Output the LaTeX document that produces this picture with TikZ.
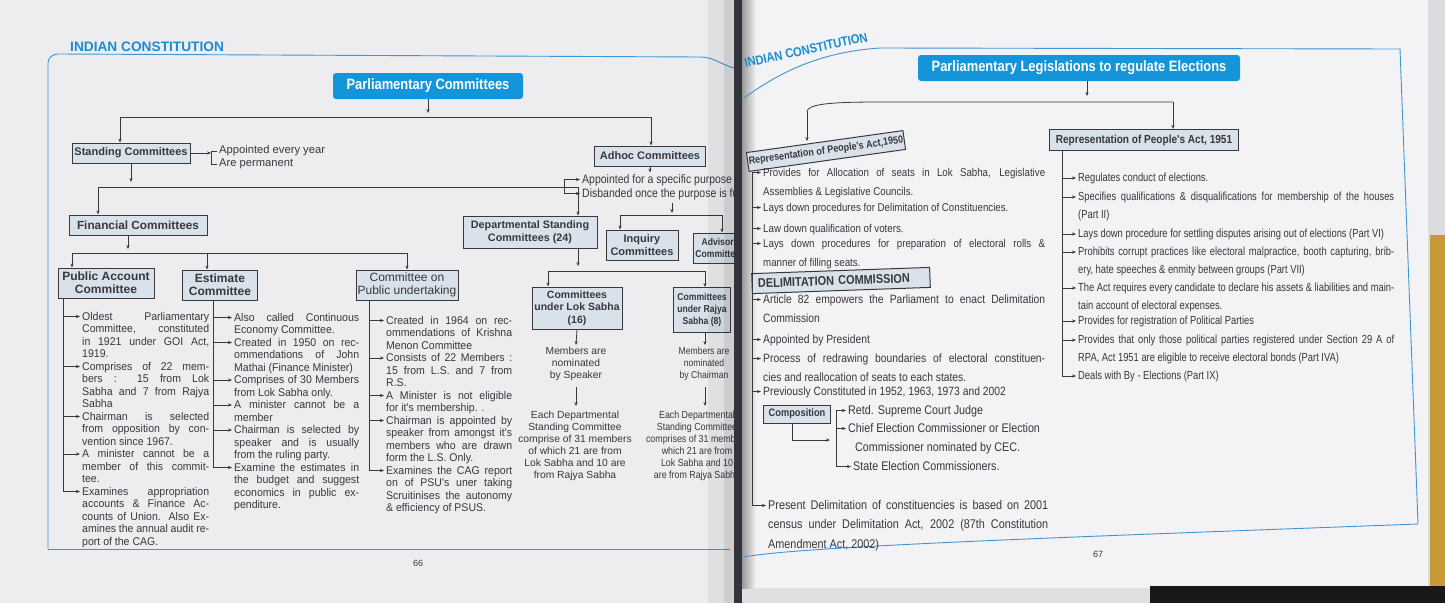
\documentclass[tikz,border=0pt]{standalone}
\usepackage{fontspec}
\setmainfont{Liberation Sans}
\newfontfamily\nar[FakeStretch=0.86]{Liberation Sans}
\newfontfamily\narr[FakeStretch=0.8]{Liberation Sans}
\newfontfamily\midf[FakeStretch=0.94]{Liberation Sans}
\usetikzlibrary{arrows.meta,calc}
\definecolor{outbg}{HTML}{DCDCE0}
\definecolor{pageL}{HTML}{EDEDF0}
\definecolor{pageR}{HTML}{F3F3F6}
\definecolor{frameblue}{HTML}{3F95D4}
\definecolor{titleblue}{HTML}{1495DA}
\definecolor{boxfill}{HTML}{D9E1EA}
\definecolor{ink}{HTML}{38383D}
\definecolor{hdrblue}{HTML}{1A8CD0}
\definecolor{gutter}{HTML}{34343C}
\definecolor{edgeY}{HTML}{C79A35}
\definecolor{darkbg}{HTML}{18181A}
\newcommand\J[1]{\hbox to \hsize{#1}}
\newcommand\Pb[2]{\parbox[t]{#1}{\raggedright #2}}
\newcommand\harr[2]{\path ($(#2.base west)+(0,-3.5)$) coordinate (tmpa); \draw[arr] (tmpa -| #1) -- ($(tmpa)+(-2,0)$);}
\newcommand\vlst[3]{\path ($(#3.base west)+(0,-3.5)$) coordinate (tmpb); \draw[conn] (#1 -| #2) -- (tmpb -| #2);}
\tikzset{
 cbox/.style={draw=ink, line width=1pt, fill=boxfill, font=\fontsize{11}{12.5}\selectfont\bfseries, text=ink, align=center, inner sep=1pt},
 tbox/.style={fill=titleblue, rounded corners=3pt, text=white, font=\nar\fontsize{15}{17}\selectfont\bfseries, inner sep=0pt},
 conn/.style={draw=ink, line width=0.8pt},
 arr/.style={conn, -{Stealth[length=4pt,width=3.2pt]}},
 item/.style={anchor=base west, inner sep=0pt, text=ink, font=\midf\fontsize{11.2}{12.5}\selectfont},
 ritem/.style={anchor=base west, inner sep=0pt, text=ink, font=\nar\fontsize{11.3}{19.5}\selectfont},
 qitem/.style={anchor=base west, inner sep=0pt, text=ink, font=\narr\fontsize{11.7}{17.5}\selectfont},
 ctext/.style={inner sep=0pt, text=ink, align=center, font=\fontsize{10.3}{12}\selectfont},
 stxt/.style={inner sep=0pt, text=ink, font=\fontsize{11.2}{12}\selectfont},
 stxt2/.style={inner sep=0pt, text=ink, font=\nar\fontsize{12.2}{13}\selectfont},
 hdr/.style={text=hdrblue, font=\fontsize{13.7}{15}\selectfont\bfseries, inner sep=0pt},
 frame/.style={draw=frameblue, line width=0.9pt},
 pnum/.style={text=ink, font=\fontsize{9}{10}\selectfont, inner sep=0pt},
}
\begin{document}
\begin{tikzpicture}[x=1pt,y=-1pt]
\useasboundingbox (0,0) rectangle (1445,603);
% backgrounds
\fill[outbg] (0,0) rectangle (1445,603);
\fill[pageL] (0,0) rectangle (734,603);
\fill[pageR] (742,0) rectangle (1428,588);
\fill[pageR!92!black] (742,588) rectangle (1150,603);
\fill[edgeY] (1430,235) rectangle (1445,603);
\fill[darkbg] (1150,586) rectangle (1445,603);

% ---------------- left page ----------------
\draw[frame] (48,549) -- (48,63) to[out=90,in=180] (58,54) -- (700,57) to[out=0,in=165] (734,68);
\draw[frame] (48,549) -- (730,549);
\node[hdr, anchor=base west] (hdrL) at (70,51) {INDIAN CONSTITUTION};
\node[pnum] (p66) at (418,563) {66};

\begin{scope}
\clip (0,0) rectangle (734,603);
\node[tbox, minimum width=190pt, minimum height=26pt] (t1) at (428,86) {Parliamentary Committees};
\coordinate (b1L) at (120,117); \coordinate (b1R) at (651,117);
\draw[arr] (t1.south) -- ($(t1.south |- b1L)+(0,-4)$);
\draw[conn] (b1L) -- (b1R);
\node[cbox, minimum width=118pt, minimum height=20pt] (std) at (131,153) {Standing Committees};
\node[cbox, minimum width=111pt, minimum height=20pt] (adh) at (650,156) {Adhoc Committees};
\draw[arr] (b1L) -- (b1L |- std.north);
\draw[arr] (b1R) -- (b1R |- adh.north);

% standing bracket
\node[stxt, anchor=west] (sa1) at (219,151) {Appointed every year};
\node[stxt, anchor=west] (sa2) at (219,164) {Are permanent};
\coordinate (saX) at (211,0);
\draw[conn] ($(sa1.west)+(-2,0)$) -| (saX |- sa2.west) -- ($(sa2.west)+(-2,0)$);
\draw[arr] (std.east) -- (std.east -| saX);

% bus 2
\coordinate (b2L) at (98,187); \coordinate (b2R) at (578,187);
\draw[arr] (std.south) -- ($(std.south |- b2L)+(0,-5)$);
\draw[conn] (b2L) -- (b2R);
\node[cbox, font=\fontsize{11.8}{13}\selectfont\bfseries, minimum width=138pt, minimum height=20pt] (fin) at (138,225) {Financial Committees};
\node[cbox, font=\fontsize{10.8}{12.5}\selectfont\bfseries, minimum width=134pt, minimum height=32pt] (dsc) at (530,232) {Departmental Standing\\Committees (24)};
\draw[arr] (b2L) -- (b2L |- fin.north);
\draw[arr] (b2R) -- (b2R |- dsc.north);

% bus 3
\coordinate (b3L) at (72,253); \coordinate (b3M) at (207,253); \coordinate (b3R) at (407,253);
\coordinate (finA) at ([xshift=-10pt]fin.south);
\draw[arr] (finA) -- ($(finA |- b3L)+(0,-4)$);
\draw[conn] (b3L) -- (b3R);
\node[cbox, font=\fontsize{12}{13}\selectfont\bfseries, minimum width=96pt, minimum height=30pt] (pac) at (106,283) {Public Account\\Committee};
\node[cbox, font=\fontsize{12}{13}\selectfont\bfseries, minimum width=75pt, minimum height=30pt] (est) at (220,285) {Estimate\\Committee};
\node[cbox, font=\fontsize{12}{13}\selectfont, minimum width=102pt, minimum height=30pt] (cpu) at (407,285) {Committee on\\Public undertaking};
\draw[arr] (b3L) -- (b3L |- pac.north);
\draw[arr] (b3M) -- (b3M |- est.north);
\draw[arr] (b3R) -- (b3R |- cpu.north);

% public account list
\coordinate (paX) at (63,0);
\node[item] (pa1) at (82,320) {\Pb{127pt}{\J{Oldest Parliamentary}\J{Committee, constituted}\J{in 1921 under GOI Act,}1919.}};
\node[item] (pa2) at (82,370) {\Pb{127pt}{\J{Comprises of 22 mem-}\J{bers : 15 from Lok}\J{Sabha and 7 from Rajya}Sabha}};
\node[item] (pa3) at (82,420) {\Pb{127pt}{\J{Chairman is selected}\J{from opposition by con-}vention since 1967.}};
\node[item] (pa4) at (82,457.5) {\Pb{127pt}{\J{A minister cannot be a}\J{member of this commit-}tee.}};
\node[item] (pa5) at (82,495) {\Pb{127pt}{\J{Examines appropriation}\J{accounts \& Finance Ac-}\J{counts of Union. Also Ex-}\J{amines the annual audit re-}port of the CAG.}};
\vlst{pac.south}{paX}{pa5}
\harr{paX}{pa1}\harr{paX}{pa2}\harr{paX}{pa3}\harr{paX}{pa4}\harr{paX}{pa5}

% estimate list
\coordinate (esX) at (213,0);
\node[item] (e1) at (234,321) {\Pb{125pt}{\J{Also called Continuous}Economy Committee.}};
\node[item] (e2) at (234,346) {\Pb{125pt}{\J{Created in 1950 on rec-}\J{ommendations of John}Mathai (Finance Minister)}};
\node[item] (e3) at (234,383.5) {\Pb{125pt}{\J{Comprises of 30 Members}from Lok Sabha only.}};
\node[item] (e4) at (234,408.5) {\Pb{125pt}{\J{A minister cannot be a}member}};
\node[item] (e5) at (234,433.5) {\Pb{125pt}{\J{Chairman is selected by}\J{speaker and is usually}from the ruling party.}};
\node[item] (e6) at (234,471) {\Pb{125pt}{\J{Examine the estimates in}\J{the budget and suggest}\J{economics in public ex-}penditure.}};
\vlst{est.south}{esX}{e6}
\harr{esX}{e1}\harr{esX}{e2}\harr{esX}{e3}\harr{esX}{e4}\harr{esX}{e5}\harr{esX}{e6}

% public undertaking list
\coordinate (cpX) at (369,0);
\node[item] (c1) at (386,324) {\Pb{126pt}{\J{Created in 1964 on rec-}\J{ommendations of Krishna}Menon Committee}};
\node[item] (c2) at (386,361.5) {\Pb{126pt}{\J{Consists of 22 Members :}\J{15 from L.S. and 7 from}R.S.}};
\node[item] (c3) at (386,399) {\Pb{126pt}{\J{A Minister is not eligible}for it's membership. .}};
\node[item] (c4) at (386,424) {\Pb{126pt}{\J{Chairman is appointed by}\J{speaker from amongst it's}\J{members who are drawn}form the L.S. Only.}};
\node[item] (c5) at (386,474) {\Pb{126pt}{\J{Examines the CAG report}\J{on of PSU's uner taking}\J{Scruitinises the autonomy}\& efficiency of PSUS.}};
\vlst{cpu.south}{cpX}{c5}
\harr{cpX}{c1}\harr{cpX}{c2}\harr{cpX}{c3}\harr{cpX}{c4}\harr{cpX}{c5}

% departmental standing committees
\coordinate (dscA) at (578,0); \coordinate (b4L) at (548,271); \coordinate (b4R) at (705,271);
\draw[arr] (dsc.south -| dscA) -- ($(b4L -| dscA)+(0,-5)$);
\draw[conn] (b4L) -- (b4R);
\node[cbox, font=\fontsize{10.5}{12.5}\selectfont\bfseries, minimum width=90pt, minimum height=42pt] (los) at (577,308) {Committees\\under Lok Sabha\\(16)};
\node[cbox, font=\nar\fontsize{10}{12}\selectfont\bfseries, minimum width=57pt, minimum height=45pt] (ras) at (702,310) {Committees\\under Rajya\\Sabha (8)};
\draw[arr] (b4L) -- (b4L |- los.north);
\draw[arr] (b4R) -- (b4R |- ras.north);
\node[ctext] (lm) at (576,364) {Members are\\nominated\\by Speaker};
\node[ctext] (le) at (575,446) {Each Departmental\\Standing Committee\\comprise of 31 members\\of which 21 are from\\Lok Sabha and 10 are\\from Rajya Sabha};
\node[ctext, font=\nar\fontsize{10}{12}\selectfont] (rm) at (704,364) {Members are\\nominated\\by Chairman};
\node[ctext, font=\nar\fontsize{10.3}{12}\selectfont] (re) at (697,446) {Each Departmental\\Standing Committee\\comprises of 31 members\\which 21 are from\\Lok Sabha and 10\\are from Rajya Sabha};
\draw[arr] (los.south) -- ($(lm.north)+(0,-2)$);
\draw[arr, shorten <=6pt, shorten >=5pt] (lm.south) -- (lm.south |- le.north);
\draw[arr] (b4R |- ras.south) -- ($(b4R |- rm.north)+(0,-2)$);
\draw[arr, shorten <=6pt, shorten >=5pt] (b4R |- rm.south) -- (b4R |- re.north);

% adhoc
\coordinate (adhA) at ($(adh.south)+(0,6)$);
\draw[arr] (adh.south) -- (adhA);
\node[stxt2, anchor=base west] (ap1) at (582,183) {Appointed for a specific purpose};
\node[stxt2, anchor=base west] (ap2) at (582,197) {Disbanded once the purpose is fulfilled};
\coordinate (apX) at (564,0);
\path ($(ap1.base west)+(0,-3.5)$) coordinate (ap1a);
\path ($(ap2.base west)+(0,-3.5)$) coordinate (ap2a);
\draw[conn] (ap1a -| apX) -- (ap2a -| apX);
\draw[arr] (ap1a -| apX) -- ($(ap1a)+(-2,0)$);
\draw[arr] (ap2a -| apX) -- ($(ap2a)+(-2,0)$);

% inquiry / advisory
\coordinate (b5L) at (620,215); \coordinate (b5R) at (722,215); \coordinate (b5M) at (672,215);
\draw[arr] ($(b5M |- ap2.south)+(0,3)$) -- ($(b5M)+(0,-2)$);
\draw[conn] (b5L) -- (b5R);
\node[cbox, font=\fontsize{11}{13}\selectfont\bfseries, minimum width=72pt, minimum height=30pt] (inq) at (642,245) {Inquiry\\Committees};
\node[cbox, font=\nar\fontsize{10}{12}\selectfont\bfseries, minimum width=54pt, minimum height=30pt] (adv) at (720,248) {Advisory\\Committees};
\draw[arr] (b5L) -- (b5L |- inq.north);
\draw[arr] (b5R) -- (b5R |- adv.north);
\end{scope}

% gutter
\fill[black, opacity=0.05] (708,0) rectangle (734,603);
\fill[black, opacity=0.08] (724,0) rectangle (734,603);
\fill[gutter] (734,0) rectangle (742,603);
\shade[left color=black!40, right color=pageR] (742,0) rectangle (756,588);

% ---------------- right page ----------------
\draw[frame] (744,98) .. controls (780,72) and (820,52) .. (880,48) -- (1400,49) -- (1418,524) .. controls (1100,536) and (800,546) .. (744,557);
\node[hdr, font=\nar\fontsize{13}{14}\selectfont\bfseries, rotate=12] (hdrR) at (806,50) {INDIAN CONSTITUTION};
\node[pnum] (p67) at (1098,554) {67};
\node[tbox, minimum width=322pt, minimum height=26pt] (t2) at (1079,68) {Parliamentary Legislations to regulate Elections};
\coordinate (b6L) at (807,112); \coordinate (b6M) at (1087,102); \coordinate (b6R) at (1173,102);
\draw[arr] (t2.south -| b6M) -- ($(b6M)+(0,-6)$);
\draw[conn] (b6L) .. controls (807,104) and (830,102) .. (880,102) -- (b6R);
\node[cbox, font=\nar\fontsize{10.5}{12}\selectfont\bfseries, minimum width=158pt, minimum height=19pt, rotate=8] (r50) at (826,151) {Representation of People's Act,1950};
\node[cbox, font=\nar\fontsize{11.7}{13}\selectfont\bfseries, minimum width=189pt, minimum height=21pt] (r51) at (1144,140) {Representation of People's Act, 1951};
\draw[arr] (b6L) -- (r50.north -| b6L);
\draw[arr] (b6R) -- (b6R |- r51.north);

% 1951 list
\coordinate (qX) at (1062,0);
\node[qitem] (q1) at (1078,181.5) {Regulates conduct of elections.};
\node[qitem] (q2) at (1078,200.5) {\Pb{316pt}{\J{Specifies qualifications \& disqualifications for membership of the houses}(Part II)}};
\node[qitem] (q3) at (1078,237.5) {Lays down procedure for settling disputes arising out of elections (Part VI)};
\node[qitem] (q4) at (1078,255.5) {\Pb{316pt}{\J{Prohibits corrupt practices like electoral malpractice, booth capturing, brib-}ery, hate speeches \& enmity between groups (Part VII)}};
\node[qitem] (q5) at (1078,291.5) {\Pb{316pt}{\J{The Act requires every candidate to declare his assets \& liabilities and main-}tain account of electoral expenses.}};
\node[qitem] (q6) at (1078,324.5) {Provides for registration of Political Parties};
\node[qitem] (q7) at (1078,343.5) {\Pb{316pt}{\J{Provides that only those political parties registered under Section 29 A of}RPA, Act 1951 are eligible to receive electoral bonds (Part IVA)}};
\node[qitem] (q8) at (1078,379.5) {Deals with By - Elections (Part IX)};
\vlst{r51.south}{qX}{q8}
\harr{qX}{q1}\harr{qX}{q2}\harr{qX}{q3}\harr{qX}{q4}\harr{qX}{q5}\harr{qX}{q6}\harr{qX}{q7}\harr{qX}{q8}

% 1950 list
\coordinate (rX) at (752,0);
\node[ritem] (i1) at (763,176) {\Pb{282pt}{\J{Provides for Allocation of seats in Lok Sabha, Legislative}Assemblies \& Legislative Councils.}};
\node[ritem] (i2) at (763,211) {Lays down procedures for Delimitation of Constituencies.};
\node[ritem] (i3) at (763,232) {Law down qualification of voters.};
\node[ritem] (i4) at (763,247) {\Pb{282pt}{\J{Lays down procedures for preparation of electoral rolls \&}manner of filling seats.}};
\node[cbox, font=\nar\fontsize{12.7}{13}\selectfont\bfseries, minimum width=178pt, minimum height=20pt, text width=166pt, align=left, inner xsep=6pt, rotate=2] (dc) at (841,280.5) {DELIMITATION COMMISSION};
\node[ritem, font=\nar\fontsize{12}{19.5}\selectfont] (i5) at (763,303) {\Pb{282pt}{\J{Article 82 empowers the Parliament to enact Delimitation}Commission}};
\node[ritem, font=\nar\fontsize{12}{19.5}\selectfont] (i6) at (763,343) {Appointed by President};
\node[ritem, font=\nar\fontsize{12}{19.5}\selectfont] (i7) at (763,362) {\Pb{282pt}{\J{Process of redrawing boundaries of electoral constituen-}cies and reallocation of seats to each states.}};
\node[ritem, font=\nar\fontsize{12}{19.5}\selectfont] (i8) at (763,395) {Previously Constituted in 1952, 1963, 1973 and 2002};
\node[ritem, font=\nar\fontsize{12.6}{19.5}\selectfont] (i9) at (768,509) {\Pb{280pt}{\J{Present Delimitation of constituencies is based on 2001}\J{census under Delimitation Act, 2002 (87th Constitution}Amendment Act, 2002)}};
\vlst{r50.south west}{rX}{i9}
\harr{rX}{i1}\harr{rX}{i2}\harr{rX}{i3}\harr{rX}{i4}\harr{rX}{i5}\harr{rX}{i6}\harr{rX}{i7}\harr{rX}{i8}\harr{rX}{i9}

% composition
\node[cbox, font=\nar\fontsize{10.8}{12}\selectfont\bfseries, minimum width=67pt, minimum height=18pt] (comp) at (797,414) {Composition};
\node[ritem, font=\nar\fontsize{12.5}{19}\selectfont] (k1) at (848,414) {Retd. Supreme Court Judge};
\node[ritem, font=\nar\fontsize{12.5}{19}\selectfont] (k2) at (848,432) {\Pb{215pt}{Chief Election Commissioner or Election\\\hspace*{7pt}Commissioner nominated by CEC.}};
\node[ritem, font=\nar\fontsize{12.5}{19}\selectfont] (k3) at (853,470) {State Election Commissioners.};
\coordinate (kX) at (836,0);
\path ($(k1.base west)+(0,-3.5)$) coordinate (k1a);
\path ($(k3.base west)+(0,-3.5)$) coordinate (k3a);
\draw[conn] (k1a -| kX) -- (k3a -| kX);
\draw[arr] (k1a -| kX) -- ($(k1a)+(-2,0)$);
\harr{kX}{k2}
\draw[arr] (k3a -| kX) -- ($(k3a)+(-2,0)$);
\coordinate (compA) at ([xshift=-5pt]comp.south);
\coordinate (compJ) at (830,440);
\draw[arr] (compA) |- (compJ);
\end{tikzpicture}
\end{document}
